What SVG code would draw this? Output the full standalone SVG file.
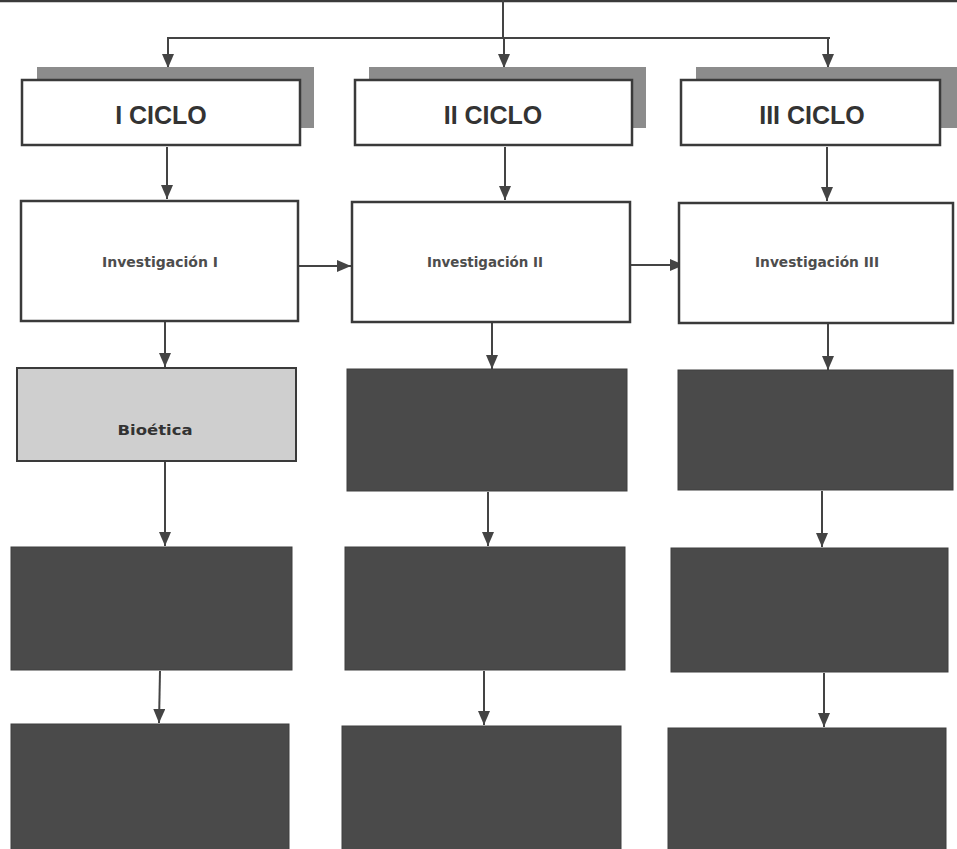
<svg xmlns="http://www.w3.org/2000/svg" width="957" height="849" viewBox="0 0 957 849">
<defs>
<marker id="ah" viewBox="0 0 14 12" refX="14" refY="6" markerWidth="14" markerHeight="12" markerUnits="userSpaceOnUse" orient="auto">
<path d="M0,0 L14,6 L0,12 Z" fill="#444"/>
</marker>
</defs>
<style>
.conn line, .conn polyline { stroke:#444; stroke-width:2; fill:none; }
.shadow { fill:#8c8c8c; }
.box { fill:#fff; stroke:#3a3a3a; stroke-width:2.5; }
.light { fill:#cfcfcf; stroke:#3a3a3a; stroke-width:2; }
.dark { fill:#4a4a4a; stroke:#3e3e3e; stroke-width:1; }
.ciclo { font-family:"Liberation Sans", Arial, sans-serif; font-weight:bold; font-size:25px; fill:#333; text-anchor:middle; }
.inv { font-family:"DejaVu Sans", sans-serif; font-weight:bold; font-size:13.5px; fill:#4d4d4d; text-anchor:middle; }
.bio { font-family:"DejaVu Sans", sans-serif; font-weight:bold; font-size:14px; fill:#333; text-anchor:middle; }
</style>
<rect width="957" height="849" fill="#fff"/>
<g id="top"><rect x="-5" y="-60" width="967" height="61" class="box"/></g>
<g class="conn" id="connectors">
<line x1="503" y1="0" x2="503" y2="38"/>
<line x1="167" y1="38" x2="830" y2="38"/>
<line x1="168" y1="38" x2="168" y2="68" marker-end="url(#ah)"/>
<line x1="504" y1="38" x2="504" y2="68" marker-end="url(#ah)"/>
<line x1="828" y1="38" x2="828" y2="68" marker-end="url(#ah)"/>
<line x1="167" y1="147" x2="167" y2="199" marker-end="url(#ah)"/>
<line x1="505" y1="147" x2="505" y2="200" marker-end="url(#ah)"/>
<line x1="827" y1="147" x2="827" y2="201" marker-end="url(#ah)"/>
<line x1="293" y1="266" x2="351" y2="266" marker-end="url(#ah)"/>
<line x1="630" y1="265" x2="684" y2="265" marker-end="url(#ah)"/>
<line x1="165" y1="322" x2="165" y2="367" marker-end="url(#ah)"/>
<line x1="492" y1="323" x2="492" y2="369" marker-end="url(#ah)"/>
<line x1="828" y1="324" x2="828" y2="370" marker-end="url(#ah)"/>
<line x1="165" y1="462" x2="165" y2="546" marker-end="url(#ah)"/>
<line x1="488" y1="492" x2="488" y2="546" marker-end="url(#ah)"/>
<line x1="822" y1="491" x2="822" y2="547" marker-end="url(#ah)"/>
<line x1="160" y1="671" x2="159" y2="723" marker-end="url(#ah)"/>
<line x1="484" y1="671" x2="484" y2="725" marker-end="url(#ah)"/>
<line x1="824" y1="673" x2="824" y2="727" marker-end="url(#ah)"/>
</g>
<g id="ciclo1"><rect x="37" y="67" width="277" height="61" class="shadow"/><rect x="22" y="80" width="278" height="65" class="box"/><text x="161" y="124" class="ciclo">I CICLO</text></g>
<g id="ciclo2"><rect x="369" y="67" width="277" height="61" class="shadow"/><rect x="355" y="80" width="277" height="65" class="box"/><text x="493" y="124" class="ciclo">II CICLO</text></g>
<g id="ciclo3"><rect x="696" y="67" width="265" height="61" class="shadow"/><rect x="681" y="80" width="259" height="65" class="box"/><text x="812" y="124" class="ciclo">III CICLO</text></g>
<g id="inv1"><rect x="21" y="201" width="277" height="120" class="box"/><text x="160" y="267" class="inv" textLength="116" lengthAdjust="spacingAndGlyphs">Investigación I</text></g>
<g id="inv2"><rect x="352" y="202" width="278" height="120" class="box"/><text x="485" y="267" class="inv" textLength="116" lengthAdjust="spacingAndGlyphs">Investigación II</text></g>
<g id="inv3"><rect x="679" y="203" width="274" height="120" class="box"/><text x="817" y="267" class="inv" textLength="124" lengthAdjust="spacingAndGlyphs">Investigación III</text></g>
<g id="bio"><rect x="17" y="368" width="279" height="93" class="light"/><text x="155" y="435" class="bio" textLength="75" lengthAdjust="spacingAndGlyphs">Bioética</text></g>
<g id="r3b"><rect x="347" y="369" width="280" height="122" class="dark"/></g>
<g id="r3c"><rect x="678" y="370" width="275" height="120" class="dark"/></g>
<g id="r4a"><rect x="11" y="547" width="281" height="123" class="dark"/></g>
<g id="r4b"><rect x="345" y="547" width="280" height="123" class="dark"/></g>
<g id="r4c"><rect x="671" y="548" width="277" height="124" class="dark"/></g>
<g id="r5a"><rect x="11" y="724" width="278" height="130" class="dark"/></g>
<g id="r5b"><rect x="342" y="726" width="279" height="130" class="dark"/></g>
<g id="r5c"><rect x="668" y="728" width="278" height="130" class="dark"/></g>
</svg>
